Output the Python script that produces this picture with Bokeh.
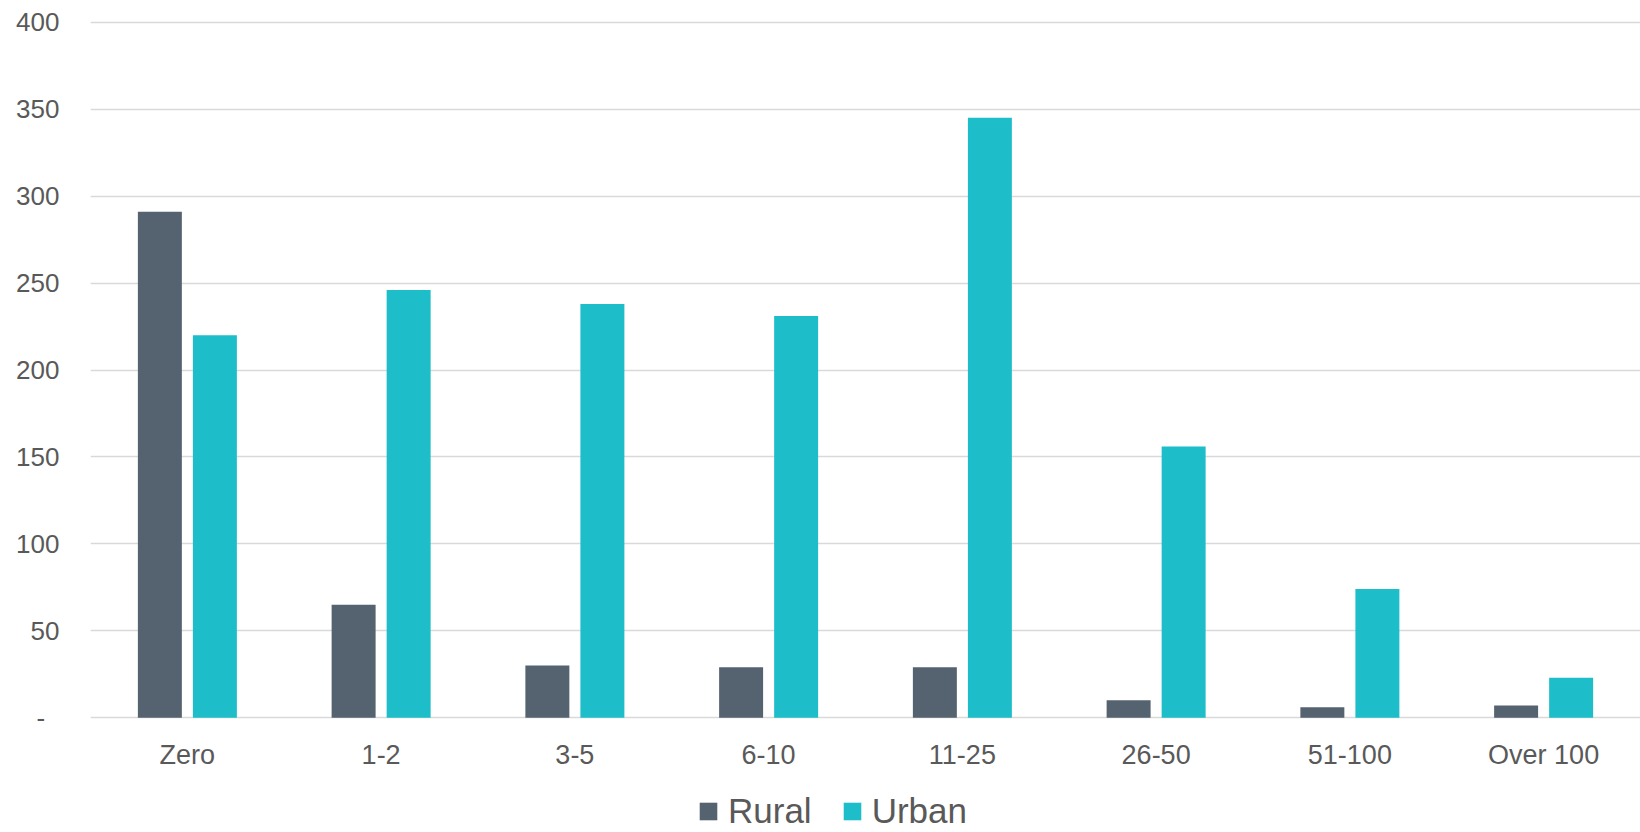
from bokeh.plotting import figure
from bokeh.layouts import column
from bokeh.models import FactorRange, FixedTicker, Legend, LegendItem, Range1d, ColumnDataSource
from bokeh.transform import dodge
from bokeh.embed import file_html
from bokeh.resources import INLINE

categories = ["Zero", "1-2", "3-5", "6-10", "11-25", "26-50", "51-100", "Over 100"]
rural = [291, 65, 30, 29, 29, 10, 6, 7]
urban = [220, 246, 238, 231, 345, 156, 74, 23]
y_ticks = [0, 50, 100, 150, 200, 250, 300, 350, 400]

RURAL_COLOR = "#55626F"
URBAN_COLOR = "#1DBEC9"
TEXT_COLOR = "#595959"
GRID_COLOR = "#D9D9D9"
FONT = "Liberation Sans"

src = ColumnDataSource(dict(cat=categories, rural=rural, urban=urban))

MAIN_H = 772
LEG_H = 832 - MAIN_H

p = figure(
    width=1640, height=MAIN_H,
    x_range=FactorRange(*categories), y_range=Range1d(-1, 401),
    output_backend="svg", toolbar_location=None,
    min_border_left=90, min_border_right=0, min_border_top=20,
    min_border_bottom=MAIN_H - 723,
)
p.outline_line_color = None
p.background_fill_color = "white"
p.border_fill_color = "white"

p.vbar(x=dodge("cat", -0.142, range=p.x_range), top="rural", bottom=0, width=0.227,
       source=src, fill_color=RURAL_COLOR, line_color=None)
p.vbar(x=dodge("cat", 0.142, range=p.x_range), top="urban", bottom=0, width=0.227,
       source=src, fill_color=URBAN_COLOR, line_color=None)

# y axis
yax = p.yaxis[0]
yax.ticker = FixedTicker(ticks=y_ticks)
yax.axis_line_color = None
yax.major_tick_line_color = None
yax.minor_tick_line_color = None
yax.major_tick_out = 0
yax.major_label_standoff = 31
yax.major_label_text_font = FONT
yax.major_label_text_font_size = "26px"
yax.major_label_text_color = TEXT_COLOR
yax.major_label_overrides = {0: "-\u00a0\u00a0"}

# x axis
xax = p.xaxis[0]
xax.axis_line_color = None
xax.major_tick_line_color = None
xax.minor_tick_line_color = None
xax.major_tick_out = 0
xax.major_label_standoff = 20
xax.major_label_text_font = FONT
xax.major_label_text_font_size = "27px"
xax.major_label_text_color = TEXT_COLOR

p.xgrid.grid_line_color = None
p.ygrid.grid_line_color = GRID_COLOR
p.ygrid.grid_line_width = 1.5
p.ygrid.ticker = FixedTicker(ticks=y_ticks)

# legend strip (bars kept out of view; only legend glyphs show)
lf = figure(
    width=1640, height=LEG_H,
    x_range=FactorRange(*categories), y_range=Range1d(1000, 1001),
    x_axis_type=None, y_axis_type=None,
    output_backend="svg", toolbar_location=None,
    min_border_left=0, min_border_right=0, min_border_top=0, min_border_bottom=0,
)
lf.outline_line_color = None
lf.xgrid.grid_line_color = None
lf.ygrid.grid_line_color = None
lr1 = lf.vbar(x="cat", top="rural", width=0.2, source=src, fill_color=RURAL_COLOR, line_color=None)
lr2 = lf.vbar(x="cat", top="urban", width=0.2, source=src, fill_color=URBAN_COLOR, line_color=None)

legend = Legend(
    items=[LegendItem(label="Rural", renderers=[lr1]), LegendItem(label="Urban", renderers=[lr2])],
    orientation="horizontal",
    location=(607, 1),
    glyph_width=22, glyph_height=22,
    label_standoff=9, spacing=29,
    label_text_font=FONT, label_text_font_size="35px", label_text_color=TEXT_COLOR,
    border_line_color=None, background_fill_alpha=0,
    padding=0, margin=0,
)
lf.add_layout(legend, "center")

layout = column(p, lf, spacing=0)
open("out.html", "w").write(file_html(layout, INLINE))
